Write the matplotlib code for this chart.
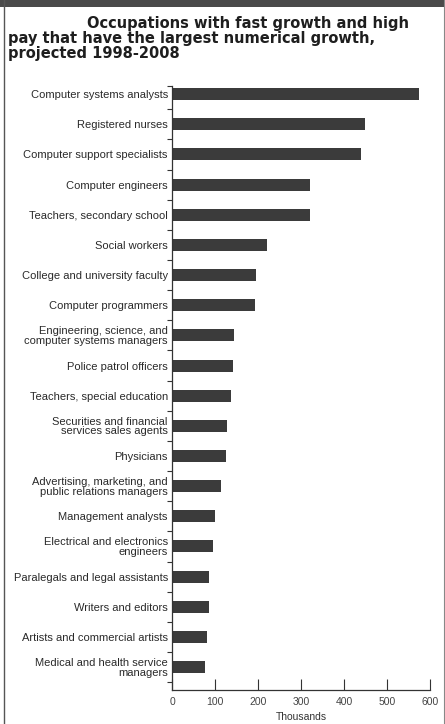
import numpy as np
import matplotlib.pyplot as plt
from matplotlib.patches import Rectangle
from matplotlib.lines import Line2D

# Datos (miles), de arriba hacia abajo
occupations = [
    "Computer systems analysts",
    "Registered nurses",
    "Computer support specialists",
    "Computer engineers",
    "Teachers, secondary school",
    "Social workers",
    "College and university faculty",
    "Computer programmers",
    "Engineering, science, and\ncomputer systems managers",
    "Police patrol officers",
    "Teachers, special education",
    "Securities and financial\nservices sales agents",
    "Physicians",
    "Advertising, marketing, and\npublic relations managers",
    "Management analysts",
    "Electrical and electronics\nengineers",
    "Paralegals and legal assistants",
    "Writers and editors",
    "Artists and commercial artists",
    "Medical and health service\nmanagers",
]
growth = [574, 449, 440, 322, 322, 220, 196, 192, 144, 143,
          137, 127, 125, 113, 100, 95, 87, 87, 82, 77]
x_ticks = [0, 100, 200, 300, 400, 500, 600]

plt.rcParams['font.family'] = ['Liberation Sans', 'DejaVu Sans']

fig = plt.figure(figsize=(4.45, 7.24), dpi=100)
ax = fig.add_axes([172 / 445, 1 - 690 / 724, 258 / 445, 604 / 724])

pos = np.arange(len(occupations))
ax.barh(pos, growth, height=0.4, color='#3b3b3b')

ax.set_xlim(0, 600)
ax.set_ylim(19.76, -0.27)

ax.set_yticks(pos)
ax.set_yticklabels(occupations, fontsize=8.0, color='#2a2a2a', linespacing=0.95)
ax.tick_params(axis='y', which='major', length=0, pad=3)
ax.set_yticks(list(pos + 0.5) + [-0.27], minor=True)
ax.tick_params(axis='y', which='minor', length=3.5, width=0.8, direction='out', color='#333333')

ax.set_xticks(x_ticks)
ax.tick_params(axis='x', direction='in', length=8, width=0.8, pad=5,
               labelsize=7.5, labelcolor='#444444', color='#333333')
ax.set_xlabel('Thousands', fontsize=7.5, color='#333333', labelpad=4)

for side in ('top', 'right'):
    ax.spines[side].set_visible(False)
for side in ('left', 'bottom'):
    ax.spines[side].set_linewidth(0.9)
    ax.spines[side].set_color('#333333')

# Título (DejaVu Sans Bold, más ancha, como la tipografía original)
title_lines = ['Occupations with fast growth and high',
               'pay that have the largest numerical growth,',
               'projected 1998-2008']
title_x = [87, 8, 8]
title_base = [28, 43, 58]
for txt, tx, ty in zip(title_lines, title_x, title_base):
    fig.text(tx / 445, 1 - ty / 724, txt, fontsize=10.5, fontweight='bold',
             family='DejaVu Sans', color='#1e1e1e', va='baseline')

# Marco
fig.add_artist(Rectangle((0, 1 - 7 / 724), 1, 7 / 724, transform=fig.transFigure,
                         color='#4a4a4a', lw=0))
fig.add_artist(Line2D([3.5 / 445, 3.5 / 445], [0, 1], transform=fig.transFigure,
                      color='#555555', lw=1.0))
fig.add_artist(Line2D([443.5 / 445, 443.5 / 445], [0, 1], transform=fig.transFigure,
                      color='#888888', lw=0.8))

fig.savefig('out.png', dpi=100)
